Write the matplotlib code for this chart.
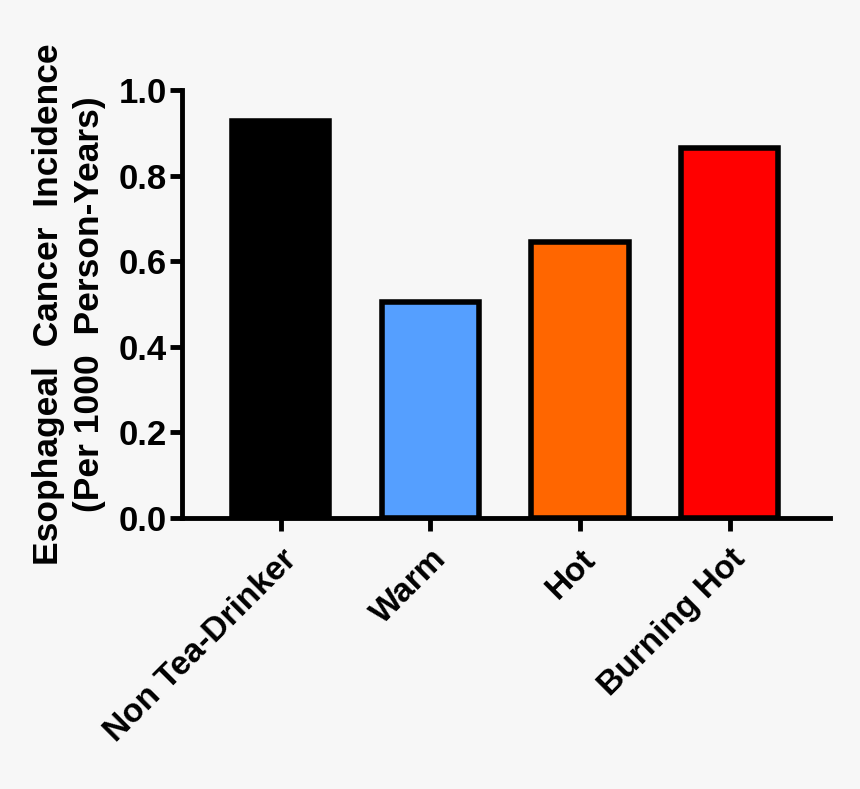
import matplotlib.pyplot as plt

categories = ['Non Tea-Drinker', 'Warm', 'Hot', 'Burning Hot']
incidence = [0.928, 0.505, 0.645, 0.865]
bar_colors = ['#000000', '#559fff', '#ff6600', '#ff0000']
yticks = [0.0, 0.2, 0.4, 0.6, 0.8, 1.0]

plt.rcParams['font.family'] = ['Liberation Sans', 'DejaVu Sans']
plt.rcParams['font.weight'] = 'bold'

fig = plt.figure(figsize=(8.6, 7.89), dpi=100, facecolor='#f7f7f7')
ax = fig.add_axes([0.2116, 0.3435, 0.7535, 0.5425])
ax.set_facecolor('#f7f7f7')

x = list(range(len(categories)))
ax.bar(x, incidence, width=0.65, color=bar_colors, edgecolor='black', linewidth=4, zorder=2)

ax.set_xlim(-0.66, 3.67)
ax.set_ylim(0, 1.0)
ax.set_yticks(yticks)
ax.set_yticklabels([f'{v:.1f}' for v in yticks], fontsize=25, fontweight='bold')
ax.set_xticks(x)
ax.set_xticklabels(categories, fontsize=24, fontweight='bold', rotation=45, ha='right',
                   rotation_mode='anchor')

for side in ['top', 'right']:
    ax.spines[side].set_visible(False)
for side in ['left', 'bottom']:
    ax.spines[side].set_linewidth(3.5)
ax.tick_params(axis='y', width=3.5, length=9, pad=2)
ax.tick_params(axis='x', width=3.5, length=9, pad=9.5)

ax.set_ylabel('Esophageal  Cancer  Incidence\n(Per 1000  Person-Years)', fontsize=25.5,
              fontweight='bold', labelpad=9, linespacing=1.3)

plt.savefig('out.png', dpi=100, facecolor=fig.get_facecolor())
